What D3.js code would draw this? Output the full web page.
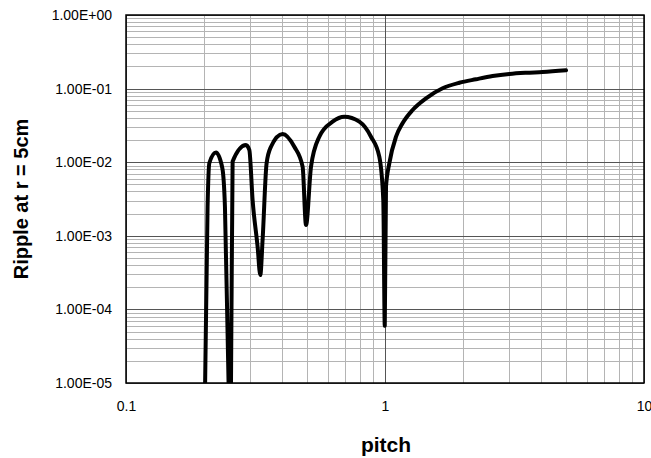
<!DOCTYPE html>
<html>
<head>
<meta charset="utf-8">
<script src="https://cdn.jsdelivr.net/npm/d3@7"></script>
<style>
  body { margin: 0; background: #fff; }
  text { font-family: "Liberation Sans", Arial, sans-serif; }
</style>
</head>
<body>
<div id="chart"></div>
<script>
"use strict";

// ripple vs pitch
var pitch = [0.2015, 0.2065, 0.2098, 0.2226, 0.2354, 0.241, 0.2489, 0.2515, 0.2543,
  0.258, 0.2905, 0.2993, 0.3082, 0.3222, 0.330, 0.3368, 0.349, 0.3629, 0.4024,
  0.4466, 0.4807, 0.4955, 0.518, 0.5577, 0.6275, 0.6966, 0.796, 0.8829, 0.9506,
  0.9849, 0.998, 1.009, 1.039, 1.103, 1.169, 1.278, 1.44, 1.669, 1.936, 2.246,
  2.603, 3.02, 3.503, 4.06, 5.0];
var ripple = [5e-6, 2.48e-3, 9.75e-3, 1.35e-2, 8.34e-3, 2.48e-3, 1e-5, 3e-6, 1e-5,
  1.02e-2, 1.71e-2, 1.47e-2, 3.06e-3, 7.11e-4, 2.93e-4, 8.77e-4, 9.66e-3, 1.62e-2, 2.42e-2,
  1.62e-2, 8.69e-3, 1.40e-3, 8.69e-3, 2.22e-2, 3.55e-2, 4.15e-2, 3.55e-2, 2.22e-2, 1.19e-2,
  3.06e-3, 6.0e-5, 4.65e-3, 9.66e-3, 2.22e-2, 3.38e-2, 5.12e-2, 7.38e-2, 0.101, 0.120, 0.134,
  0.148, 0.158, 0.164, 0.168, 0.177];

var xTicks = [0.1, 1, 10];
var yTicks = [1e-5, 1e-4, 1e-3, 1e-2, 1e-1, 1];
var yTickLabels = ["1.00E-05", "1.00E-04", "1.00E-03", "1.00E-02", "1.00E-01", "1.00E+00"];

var margin = {top: 15, right: 7, bottom: 75, left: 126},
  width = 651 - margin.left - margin.right,
  height = 458 - margin.top - margin.bottom;

var svg = d3.select("#chart")
.append("svg")
  .attr("width", 651)
  .attr("height", 458)
.append("g")
  .attr("transform", "translate(" + margin.left + "," + margin.top + ")");

var x = d3.scaleLog().domain([0.1, 10]).range([0, width]);
var y = d3.scaleLog().domain([1e-5, 1]).range([height, 0]);

// minor grid (2..9 in each decade)
var minorX = [], minorY = [];
[0.1, 1].forEach(function(d) {
  for (var k = 2; k <= 9; k++) minorX.push(d * k);
});
[1e-5, 1e-4, 1e-3, 1e-2, 1e-1].forEach(function(d) {
  for (var k = 2; k <= 9; k++) minorY.push(d * k);
});

svg.selectAll(".minx").data(minorX).enter().append("line")
  .attr("x1", function(d) { return Math.round(x(d)) + 0.5; })
  .attr("x2", function(d) { return Math.round(x(d)) + 0.5; })
  .attr("y1", 0).attr("y2", height)
  .style("stroke", "#b4b4b4").style("stroke-width", 1);

svg.selectAll(".miny").data(minorY).enter().append("line")
  .attr("y1", function(d) { return Math.round(y(d)) + 0.5; })
  .attr("y2", function(d) { return Math.round(y(d)) + 0.5; })
  .attr("x1", 0).attr("x2", width)
  .style("stroke", "#b4b4b4").style("stroke-width", 1);

// major grid
svg.selectAll(".majx").data(xTicks).enter().append("line")
  .attr("x1", function(d) { return Math.round(x(d)) + 0.5; })
  .attr("x2", function(d) { return Math.round(x(d)) + 0.5; })
  .attr("y1", 0).attr("y2", height)
  .style("stroke", "#555").style("stroke-width", 1);

svg.selectAll(".majy").data(yTicks).enter().append("line")
  .attr("y1", function(d) { return Math.round(y(d)) + 0.5; })
  .attr("y2", function(d) { return Math.round(y(d)) + 0.5; })
  .attr("x1", 0).attr("x2", width)
  .style("stroke", "#555").style("stroke-width", 1);

// clip for the curve
svg.append("clipPath").attr("id", "clip")
  .append("rect").attr("width", width).attr("height", height);

var line = d3.line()
  .x(function(d) { return x(d[0]); })
  .y(function(d) { return y(d[1]); })
  .curve(d3.curveMonotoneX);

svg.append("path")
  .datum(d3.zip(pitch, ripple))
  .attr("clip-path", "url(#clip)")
  .attr("d", line)
  .style("fill", "none")
  .style("stroke", "#000")
  .style("stroke-width", 4)
  .style("stroke-linejoin", "round")
  .style("stroke-linecap", "round");

// plot border
svg.append("rect")
  .attr("x", 0).attr("y", 0)
  .attr("width", width).attr("height", height)
  .style("fill", "none").style("stroke", "#000").style("stroke-width", 1.5);

// axes
svg.append("g")
  .attr("transform", "translate(0," + height + ")")
  .call(d3.axisBottom(x).tickValues(xTicks).tickSize(0).tickPadding(18)
    .tickFormat(function(d) { return String(d); }))
  .call(function(g) { g.select(".domain").remove(); })
  .selectAll("text")
  .style("font-size", "14px")
  .style("fill", "#000")
  .style("font-family", "'Liberation Sans', Arial, sans-serif");

svg.append("g")
  .call(d3.axisLeft(y).tickValues(yTicks).tickSize(0).tickPadding(14)
    .tickFormat(function(d, i) { return yTickLabels[i]; }))
  .call(function(g) { g.select(".domain").remove(); })
  .selectAll("text")
  .style("font-size", "14px")
  .style("fill", "#000")
  .style("font-family", "'Liberation Sans', Arial, sans-serif");

// axis titles
svg.append("text")
  .attr("x", width / 2 + 1)
  .attr("y", height + 69)
  .attr("text-anchor", "middle")
  .style("font-size", "21px")
  .style("font-weight", "bold")
  .text("pitch");

svg.append("text")
  .attr("transform", "translate(" + (-98) + "," + (height / 2) + ") rotate(-90)")
  .attr("text-anchor", "middle")
  .style("font-size", "20px")
  .style("font-weight", "bold")
  .text("Ripple at r = 5cm");
</script>
</body>
</html>
